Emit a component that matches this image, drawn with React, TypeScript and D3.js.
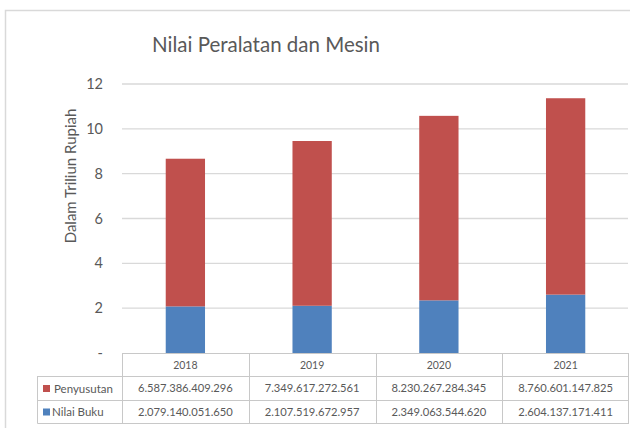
import React from "react";
import * as d3 from "d3";

const years = ["2018", "2019", "2020", "2021"];
const penyusutan = [6587386409296, 7349617272561, 8230267284345, 8760601147825];
const nilaiBuku = [2079140051650, 2107519672957, 2349063544620, 2604137171411];
const yTicks = [0, 2, 4, 6, 8, 10, 12];

const RED = "#C0504D";
const BLUE = "#4F81BD";
const TEXT = "#595959";
const GRID = "#d9d9d9";
const TABLE = "#c8c8c8";
const FONT = "Lato, 'Open Sans', sans-serif";

const fmt = (v: number) => d3.format(",.0f")(v).replace(/,/g, ".");

export default function App() {
  const W = 630, H = 428;
  const x = d3.scaleBand<string>().domain(years).range([122, 629]).paddingInner(0.69).paddingOuter(0.345);
  const y = d3.scaleLinear().domain([0, 12]).range([353, 84]);
  const step = x.step();
  const colStart = (i: number) => 122 + i * step;
  const rowTop = 353, rowH1 = 376, rowH2 = 400, rowH3 = 423;
  const series = [
    { name: "Penyusutan", color: RED, values: penyusutan },
    { name: "Nilai Buku", color: BLUE, values: nilaiBuku },
  ];

  return (
    <div style={{ position: "absolute", left: 0, top: 0, width: W, height: H, background: "#fff" }}>
      <svg width={W} height={H} style={{ display: "block" }} fontFamily={FONT}>
        <rect x={0} y={0} width={W} height={H} fill="#fff" />
        <path d={`M5.5,${H} V10.5 H${W}`} fill="none" stroke={GRID} strokeWidth={1.5} />
        <text x={266} y={52} textAnchor="middle" fontSize={20.5} fill={TEXT}>Nilai Peralatan dan Mesin</text>
        <text transform={`translate(76,176) rotate(-90)`} textAnchor="middle" fontSize={15} fill={TEXT}>Dalam Triliun Rupiah</text>
        {yTicks.filter((t) => t > 0).map((t) => (
          <line key={t} x1={122} x2={628} y1={y(t)} y2={y(t)} stroke={GRID} strokeWidth={1.3} />
        ))}
        {yTicks.map((t) => (
          <text key={t} x={103} y={y(t)} dy="0.35em" textAnchor="end" fontSize={14.5} fill={TEXT}>
            {t === 0 ? "-" : t}
          </text>
        ))}
        {years.map((yr, i) => {
          const b = nilaiBuku[i] / 1e12;
          const p = penyusutan[i] / 1e12;
          return (
            <g key={yr}>
              <rect x={x(yr)} width={x.bandwidth()} y={y(b)} height={y(0) - y(b)} fill={BLUE} />
              <rect x={x(yr)} width={x.bandwidth()} y={y(b + p)} height={y(b) - y(b + p)} fill={RED} />
            </g>
          );
        })}
        <g stroke={TABLE} strokeWidth={1} fill="none">
          <line x1={122} x2={629} y1={rowTop + 0.5} y2={rowTop + 0.5} />
          <line x1={37.5} x2={629} y1={rowH1 + 0.5} y2={rowH1 + 0.5} />
          <line x1={37.5} x2={629} y1={rowH2 + 0.5} y2={rowH2 + 0.5} />
          <line x1={37.5} x2={629} y1={rowH3 + 0.5} y2={rowH3 + 0.5} />
          <line x1={37.5} x2={37.5} y1={rowH1} y2={rowH3 + 0.5} />
          {years.map((yr, i) => (
            <line key={yr} x1={Math.round(colStart(i)) + 0.5} x2={Math.round(colStart(i)) + 0.5} y1={rowTop} y2={rowH3 + 0.5} />
          ))}
          <line x1={628.5} x2={628.5} y1={rowTop} y2={rowH3 + 0.5} />
        </g>
        {years.map((yr) => (
          <text key={yr} x={(x(yr) as number) + x.bandwidth() / 2} y={(rowTop + rowH1) / 2 + 1} dy="0.35em" textAnchor="middle" fontSize={10.5} fill={TEXT}>
            {yr}
          </text>
        ))}
        {series.map((s, si) => {
          const top = si === 0 ? rowH1 : rowH2;
          const bot = si === 0 ? rowH2 : rowH3;
          const cy = (top + bot) / 2 + 0.5;
          return (
            <g key={s.name}>
              <rect x={43} y={cy - 3.5} width={7} height={7} fill={s.color} />
              <text x={si === 0 ? 54 : 52} y={cy} dy="0.35em" fontSize={11.5} fill={TEXT}>{s.name}</text>
              {years.map((yr, i) => (
                <text key={yr} x={(x(yr) as number) + x.bandwidth() / 2} y={cy} dy="0.35em" textAnchor="middle" fontSize={11.2} fill={TEXT}>
                  {fmt(s.values[i])}
                </text>
              ))}
            </g>
          );
        })}
      </svg>
    </div>
  );
}
